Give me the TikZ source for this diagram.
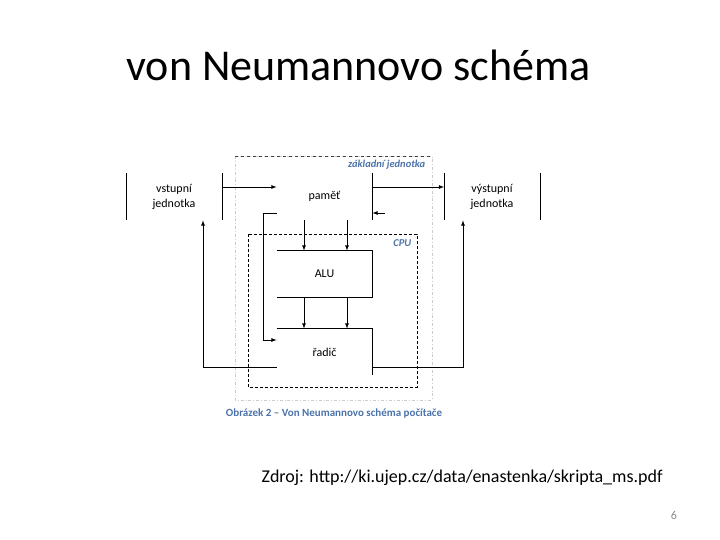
\documentclass[tikz,border=0pt]{standalone}
\usepackage{fontspec}
\setmainfont{Carlito}
\definecolor{popisblue}{RGB}{75,115,170}
\definecolor{cislogray}{RGB}{137,137,137}
\begin{document}
\begin{tikzpicture}[x=1pt, y=-1pt, >=latex, line width=0.8pt,
	unit/.style={minimum width=95pt, minimum height=47pt, inner sep=0pt, align=center, font=\fontsize{12}{15}\selectfont},
	blok/.style={minimum width=95pt, minimum height=46pt, inner sep=0pt, font=\fontsize{12}{15}\selectfont},
	modre/.style={text=popisblue, font=\fontsize{10.5}{12}\selectfont\bfseries\itshape}]
	\useasboundingbox (0, 0) rectangle (720, 540);
	
	\node[anchor=base] (nadpis) at (358.5, 81) {\fontsize{44}{50}\selectfont von Neumannovo schéma};
	
	\draw[gray!40, dash dot, line width=0.6pt] (235, 156) rectangle (432, 400);
	\draw[black!75, dashed, line width=0.6pt] (235, 156) -- (432, 156);
	\draw[dashed, dash pattern=on 3pt off 2pt] (248, 234) rectangle (417, 387);
	
	\node[modre, anchor=east] (zakladni) at (429, 165) {základní jednotka};
	\node[modre, anchor=east] (cpu) at (415, 243) {CPU};
	
	\node[unit] (vstup) at (174, 196.5) {vstupní\\jednotka};
	\node[unit] (vystup) at (492, 196.5) {výstupní\\jednotka};
	\node[unit] (pamet) at (324.5, 196.5) {paměť};
	\node[blok] (alu) at (324.5, 274) {ALU};
	\node[blok] (radic) at (324.5, 352) {řadič};
	
	\draw (vstup.north west) -- (vstup.south west);
	\draw (vstup.north east) -- (vstup.south east);
	\draw (vystup.north west) -- (vystup.south west);
	\draw (vystup.north east) -- (vystup.south east);
	\draw (pamet.north east) -- (pamet.south east);
	\draw (alu.north west) -- (alu.north east) -- (alu.south east) -- (alu.south west);
	\draw (radic.north west) -- (radic.north east) -- (radic.south east);
	
	\draw[->] ([yshift=9.5pt]vstup.east) -- ([yshift=9.5pt]pamet.west);
	\draw[->] ([yshift=9.5pt]pamet.east) -- ([yshift=9.5pt]vystup.west);
	\coordinate (zpet) at (385, 213);
	\draw[->] (zpet) -- ([yshift=-16.5pt]pamet.east);
	\draw[->] ([yshift=-16.5pt]pamet.west) -- ++(-13, 0) |- ([yshift=12pt]radic.west);
	
	\draw[->] ([xshift=-20.5pt]pamet.south) -- ([xshift=-20.5pt]alu.north);
	\draw[->] ([xshift=22.5pt]pamet.south) -- ([xshift=22.5pt]alu.north);
	\draw[->] ([xshift=-20.5pt]alu.south) -- ([xshift=-20.5pt]radic.north);
	\draw[->] ([xshift=22.5pt]alu.south) -- ([xshift=22.5pt]radic.north);
	
	\draw[->] ([yshift=-15pt]radic.west) -| ([xshift=29pt]vstup.south);
	\draw[->] ([yshift=-15pt]radic.east) -| ([xshift=-29pt]vystup.south);
	
	\node[text=popisblue, font=\fontsize{11}{13}\selectfont\bfseries] (popis) at (334, 414) {Obrázek 2 – Von Neumannovo schéma počítače};
	
	\node[anchor=base west, font=\fontsize{18}{22}\selectfont] (zdroj) at (258, 482) {Zdroj: http://ki.ujep.cz/data/enastenka/skripta\_ms.pdf};
	\node[text=cislogray, font=\fontsize{12}{14}\selectfont] (cislo) at (674, 515) {6};
\end{tikzpicture}
\end{document}
